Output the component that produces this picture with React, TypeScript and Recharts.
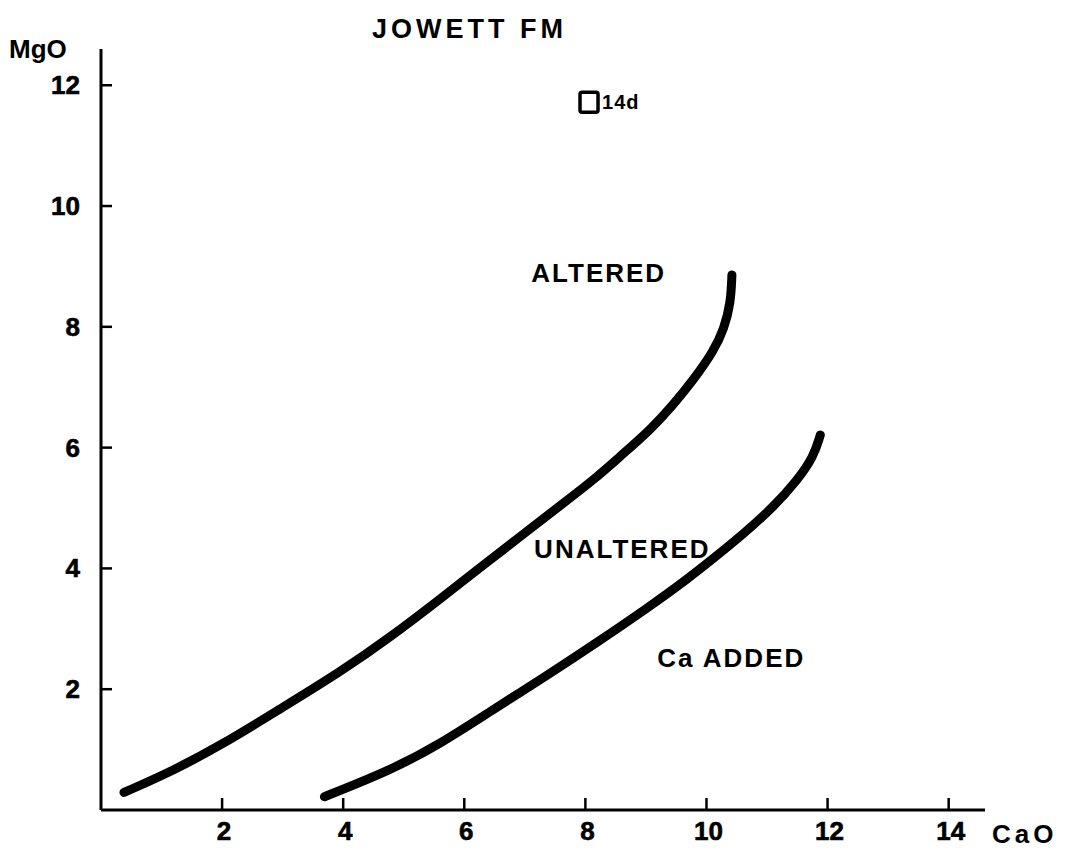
import React from 'react';
import { ComposedChart, Line, Scatter, XAxis, YAxis } from 'recharts';

// upper boundary: altered / unaltered
const alteredCaO = [0.38, 1.21, 2.03, 2.92, 3.96, 4.79, 5.61, 6.27, 6.99, 7.7, 8.14, 8.58, 9.08, 9.46, 9.79, 10.12, 10.29, 10.4, 10.42];
const alteredMgO = [0.29, 0.66, 1.1, 1.65, 2.29, 2.87, 3.5, 4.02, 4.58, 5.13, 5.47, 5.86, 6.3, 6.72, 7.13, 7.6, 7.97, 8.39, 8.86];

// lower boundary: unaltered / Ca added
const caAddedCaO = [3.69, 4.79, 5.61, 6.44, 7.37, 8.2, 9.02, 9.68, 10.12, 10.62, 11.11, 11.5, 11.77, 11.88];
const caAddedMgO = [0.22, 0.66, 1.1, 1.64, 2.23, 2.78, 3.34, 3.82, 4.17, 4.58, 5.02, 5.46, 5.85, 6.21];

// sample 14d
const sampleName = ['14d'];
const sampleCaO = [8.06];
const sampleMgO = [11.72];

// field labels
const fieldText = ['ALTERED', 'UNALTERED', 'Ca ADDED'];
const fieldCaO = [8.22, 8.61, 10.41];
const fieldMgO = [8.89, 4.32, 2.52];

const xTicks = [2, 4, 6, 8, 10, 12, 14];
const yTicks = [2, 4, 6, 8, 10, 12];

const upperLine = alteredCaO.map((x, i) => ({ x, y: alteredMgO[i] }));
const lowerLine = caAddedCaO.map((x, i) => ({ x, y: caAddedMgO[i] }));
const samples = sampleCaO.map((x, i) => ({ x, y: sampleMgO[i], name: sampleName[i] }));
const fields = fieldCaO.map((x, i) => ({ x, y: fieldMgO[i], text: fieldText[i] }));

const FONT = '"Liberation Sans", Arial, sans-serif';
const W = 1051;
const H = 840;

const XTick = (props: any) => {
    const { x, y, payload } = props;
    return (
        <g>
            <line x1={x} y1={y} x2={x} y2={y - 12} stroke="#000" strokeWidth={2.5} />
            <text x={x + 2} y={y + 30} textAnchor="middle" fontFamily={FONT} fontWeight="bold" fontSize={26} fill="#000" stroke="#000" strokeWidth={0.6}>
                {payload.value}
            </text>
        </g>
    );
};

const YTick = (props: any) => {
    const { x, y, payload } = props;
    return (
        <g>
            <line x1={x} y1={y} x2={x + 11} y2={y} stroke="#000" strokeWidth={2.5} />
            <text x={x - 21} y={y + 9} textAnchor="end" fontFamily={FONT} fontWeight="bold" fontSize={26} fill="#000" stroke="#000" strokeWidth={0.6}>
                {payload.value}
            </text>
        </g>
    );
};

const SampleShape = (props: any) => {
    const { cx, cy, payload } = props;
    return (
        <g>
            <rect x={cx - 9} y={cy - 10} width={18} height={20} rx={2} fill="none" stroke="#000" strokeWidth={3.5} />
            <text x={cx + 13} y={cy + 7} fontFamily={FONT} fontWeight="bold" fontSize={20} letterSpacing={1} fill="#000">
                {payload.name}
            </text>
        </g>
    );
};

const FieldShape = (props: any) => {
    const { cx, cy, payload } = props;
    return (
        <text x={cx} y={cy + 9} textAnchor="middle" fontFamily={FONT} fontWeight="bold" fontSize={26} letterSpacing={2} fill="#000">
            {payload.text}
        </text>
    );
};

const App: React.FC = () => {
    return (
        <div style={{ position: 'relative', width: W, height: H, background: '#fff' }}>
            <ComposedChart width={W} height={H} margin={{ top: 41, right: 74, bottom: 0, left: 0 }}>
                <XAxis
                    type="number"
                    dataKey="x"
                    domain={[0, 14.6]}
                    ticks={xTicks}
                    interval={0}
                    allowDataOverflow
                    height={38}
                    tickSize={0}
                    tickMargin={0}
                    tickLine={false}
                    axisLine={{ stroke: '#000', strokeWidth: 3 }}
                    tick={<XTick />}
                />
                <YAxis
                    type="number"
                    dataKey="y"
                    domain={[0, 12.6]}
                    ticks={yTicks}
                    interval={0}
                    allowDataOverflow
                    width={93}
                    tickSize={0}
                    tickMargin={0}
                    tickLine={false}
                    axisLine={{ stroke: '#000', strokeWidth: 3 }}
                    tick={<YTick />}
                />
                <Line data={upperLine} dataKey="y" type="basis" stroke="#000" strokeWidth={9} strokeLinecap="round" dot={false} activeDot={false} isAnimationActive={false} />
                <Line data={lowerLine} dataKey="y" type="basis" stroke="#000" strokeWidth={9} strokeLinecap="round" dot={false} activeDot={false} isAnimationActive={false} />
                <Scatter data={samples} dataKey="y" shape={<SampleShape />} isAnimationActive={false} />
                <Scatter data={fields} dataKey="y" shape={<FieldShape />} isAnimationActive={false} />
            </ComposedChart>
            <svg width={W} height={H} style={{ position: 'absolute', left: 0, top: 0, pointerEvents: 'none' }}>
                <text x={364} y={30} fontFamily={FONT} fontWeight="bold" fontSize={27} letterSpacing={4} fill="#000">JOWETT FM</text>
                <text x={1} y={50} fontFamily={FONT} fontWeight="bold" fontSize={26} fill="#000">MgO</text>
                <text x={984} y={835} fontFamily={FONT} fontWeight="bold" fontSize={26} letterSpacing={4} fill="#000">CaO</text>
            </svg>
        </div>
    );
};

export default App;
